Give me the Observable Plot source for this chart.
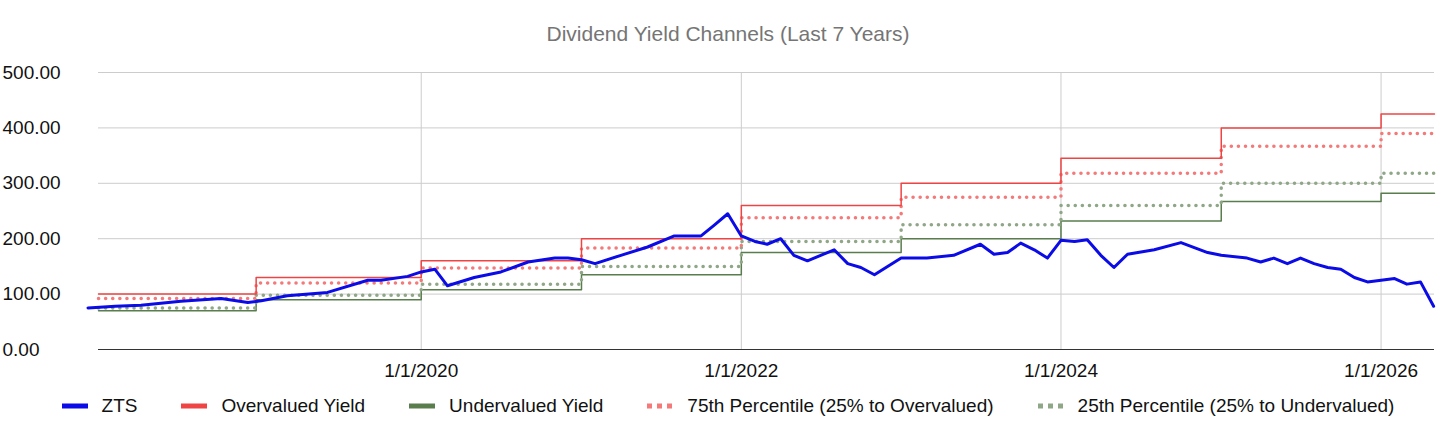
<!DOCTYPE html>
<html><head>
<script src="https://cdn.jsdelivr.net/npm/d3@7"></script>
<script src="https://cdn.jsdelivr.net/npm/@observablehq/plot@0.6"></script>
<style>
body{margin:0;background:#fff;font-family:Arial,"Liberation Sans",sans-serif;}
#title{height:55px;line-height:68px;text-align:center;color:#757575;font-size:21px;}
#legend{display:flex;justify-content:center;gap:44px;font-size:19px;color:#111;margin-top:10px;}
#legend span{display:inline-flex;align-items:center;gap:14px;}
#legend svg{width:26px;height:8px;}
</style></head><body>
<div id="title">Dividend Yield Channels (Last 7 Years)</div>
<div id="chart"></div>
<div id="legend"></div>
<script>
const stepDates=["2017-12-25","2018-12-20","2020-01-01","2021-01-01","2022-01-01","2023-01-01","2024-01-01","2025-01-01","2026-01-01","2026-05-03"];
const overvalued=[100,130,160,200,260,300,345,400,425,425];
const undervalued=[70,90,108,135,175,200,232,267,282,282];
const p75=[92,120,147,183,238,275,318,367,390,390];
const p25=[75,98,118,150,195,225,260,300,318,318];
const ztsDates=["2017-12","2018-02","2018-04","2018-07","2018-10","2018-12","2019-01","2019-03","2019-06","2019-09","2019-10","2019-12","2020-01","2020-02","2020-03","2020-05","2020-07","2020-09","2020-11","2020-12","2021-01","2021-02","2021-04","2021-06","2021-08","2021-10","2021-11","2021-12","2022-01","2022-02","2022-03","2022-04","2022-05","2022-06","2022-08","2022-09","2022-10","2022-11","2022-12","2023-01","2023-03","2023-05","2023-07","2023-08","2023-09","2023-10","2023-11","2023-12","2024-01","2024-02","2024-03","2024-04","2024-05","2024-06","2024-08","2024-10","2024-12","2025-01","2025-03","2025-04","2025-05","2025-06","2025-07","2025-08","2025-09","2025-10","2025-11","2025-12","2026-01","2026-02","2026-03","2026-04","2026-05"];
const zts=[75,78,80,87,92,85,88,97,103,125,125,132,140,145,115,130,140,158,165,165,162,155,170,185,205,205,225,245,205,195,190,200,170,160,180,155,148,135,150,165,165,170,190,172,175,192,180,165,197,195,198,170,148,172,180,193,175,170,165,158,165,155,165,155,148,145,130,122,125,128,118,122,78];
const tickDates=["2020-01-01","2022-01-01","2024-01-01","2026-01-01"];

const pd=d3.utcParse("%Y-%m-%d"), pm=d3.utcParse("%Y-%m");
const steps=(vals)=>stepDates.map((d,i)=>({date:pd(d),v:vals[i]}));
const ztsData=ztsDates.map((d,i)=>({date:pm(d),v:zts[i]}));
const ticks=tickDates.map(pd);

const chart=Plot.plot({
  width:1456,height:330,marginTop:17,marginBottom:36,marginLeft:98,marginRight:22,
  style:{fontFamily:"Arial, 'Liberation Sans', sans-serif",fontSize:"19px",color:"#111"},
  x:{type:"utc",domain:[pd("2017-12-25"),pd("2026-05-03")]},
  y:{domain:[0,500]},
  marks:[
    Plot.gridY([100,200,300,400,500],{stroke:"#ccc",strokeOpacity:1}),
    Plot.gridX(ticks,{stroke:"#ccc",strokeOpacity:1}),
    Plot.axisY({ticks:[0,100,200,300,400,500],tickFormat:d=>d.toFixed(2),tickSize:0,tickPadding:0,textAnchor:"start",dx:-96,label:null,fontSize:19,fill:"#111"}),
    Plot.axisX({ticks:ticks,tickFormat:d3.utcFormat("%-m/%-d/%Y"),tickSize:0,tickPadding:14,label:null,fontSize:19,fill:"#111"}),
    Plot.lineY(steps(undervalued),{x:"date",y:"v",curve:"step-after",stroke:"#5a7d4e",strokeWidth:1.5}),
    Plot.lineY(steps(p25),{x:"date",y:"v",curve:"step-after",stroke:"#8fa787",strokeWidth:3.5,strokeDasharray:"0.1,7",strokeLinecap:"round"}),
    Plot.lineY(steps(p75),{x:"date",y:"v",curve:"step-after",stroke:"#f47a7a",strokeWidth:3.5,strokeDasharray:"0.1,7",strokeLinecap:"round"}),
    Plot.lineY(steps(overvalued),{x:"date",y:"v",curve:"step-after",stroke:"#ef4444",strokeWidth:1.5}),
    Plot.lineY(ztsData,{x:"date",y:"v",stroke:"#0b0be8",strokeWidth:3}),
    Plot.ruleY([0],{stroke:"#333"})
  ]
});
document.getElementById("chart").append(chart);

const legend=[["ZTS","#0b0be8",null],["Overvalued Yield","#ef4444",null],["Undervalued Yield","#5a7d4e",null],["75th Percentile (25% to Overvalued)","#f47a7a","5,5"],["25th Percentile (25% to Undervalued)","#8fa787","5,5"]];
const L=document.getElementById("legend");
legend.forEach(([t,c,da])=>{
  const s=document.createElement("span");
  s.innerHTML=`<svg><line x1="0" y1="4" x2="26" y2="4" stroke="${c}" stroke-width="5" ${da?`stroke-dasharray="${da}"`:""}/></svg>${t}`;
  L.append(s);
});
</script>
</body></html>
